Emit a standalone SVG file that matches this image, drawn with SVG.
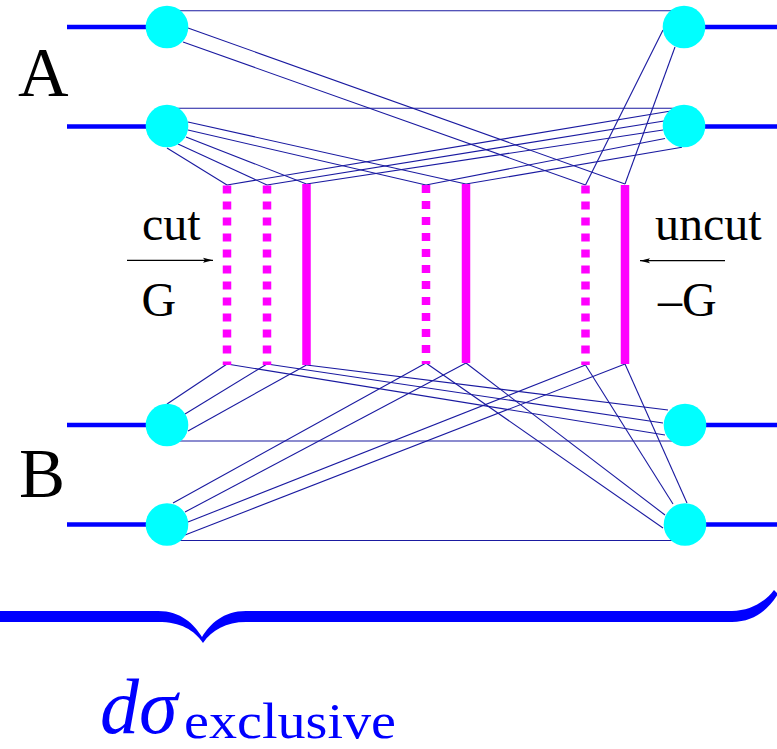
<svg xmlns="http://www.w3.org/2000/svg" width="777" height="749" viewBox="0 0 777 749">
<style>
.c{stroke:#1a1aa0;stroke-width:1.1;fill:none}
.ext{stroke:#0000ff;stroke-width:4.3}
.blob{fill:#00ffff}
.dot{stroke:#ff00ff;stroke-width:8.5;stroke-dasharray:8 8}
.sol{stroke:#ff00ff;stroke-width:8.5}
.t{font-family:"Liberation Serif","Times New Roman",serif;fill:#000}
.arr{stroke:#000;stroke-width:1.2}
</style>
<defs>
<marker id="ah" viewBox="0 0 10 6" refX="10" refY="3" markerWidth="10" markerHeight="6" markerUnits="userSpaceOnUse" orient="auto">
<path d="M0,0.5 L10,3 L0,5.5 L2,3 Z" fill="#000"/>
</marker>
</defs>
<rect width="777" height="749" fill="#fff"/>
<g id="connectors">
<line class="c" x1="175" y1="10.7" x2="676" y2="10.7"/>
<line class="c" x1="175" y1="108.3" x2="676" y2="108.3"/>
<line class="c" x1="175" y1="441" x2="676" y2="441"/>
<line class="c" x1="175" y1="540.5" x2="676" y2="540.5"/>
<line class="c" x1="188" y1="28" x2="625" y2="184"/>
<line class="c" x1="183" y1="42" x2="585.5" y2="185"/>
<line class="c" x1="663" y1="30" x2="585.5" y2="185"/>
<line class="c" x1="675" y1="47" x2="625" y2="184"/>
<line class="c" x1="188" y1="122" x2="466" y2="184"/>
<line class="c" x1="188" y1="130" x2="426" y2="185"/>
<line class="c" x1="186" y1="137" x2="306.5" y2="184"/>
<line class="c" x1="178" y1="144" x2="267" y2="185"/>
<line class="c" x1="167" y1="148" x2="227" y2="185"/>
<line class="c" x1="671" y1="111" x2="227" y2="185"/>
<line class="c" x1="664" y1="121" x2="267" y2="185"/>
<line class="c" x1="663" y1="130" x2="306.5" y2="184"/>
<line class="c" x1="665" y1="138.5" x2="426" y2="185"/>
<line class="c" x1="682" y1="147.3" x2="466" y2="184"/>
<line class="c" x1="167" y1="404" x2="227" y2="364"/>
<line class="c" x1="185" y1="414" x2="267" y2="364"/>
<line class="c" x1="188" y1="431" x2="306.5" y2="365"/>
<line class="c" x1="668" y1="410" x2="306.5" y2="365"/>
<line class="c" x1="663" y1="423" x2="267" y2="364"/>
<line class="c" x1="665" y1="435" x2="227" y2="364"/>
<line class="c" x1="173" y1="503" x2="426" y2="363"/>
<line class="c" x1="185" y1="512" x2="466" y2="363"/>
<line class="c" x1="188" y1="522" x2="585.5" y2="365"/>
<line class="c" x1="185" y1="535" x2="625" y2="364"/>
<line class="c" x1="663" y1="528" x2="426" y2="363"/>
<line class="c" x1="665" y1="515" x2="466" y2="363"/>
<line class="c" x1="673" y1="504" x2="585.5" y2="365"/>
<line class="c" x1="687" y1="503" x2="625" y2="364"/>
</g>
<g id="gluon-d1"><line class="dot" x1="227" y1="185.5" x2="227" y2="365"/></g>
<g id="gluon-d2"><line class="dot" x1="267" y1="185.5" x2="267" y2="365"/></g>
<g id="gluon-s1"><line class="sol" x1="306.5" y1="184" x2="306.5" y2="365"/></g>
<g id="gluon-d3"><line class="dot" x1="426" y1="185" x2="426" y2="364"/></g>
<g id="gluon-s2"><line class="sol" x1="466" y1="184" x2="466" y2="363"/></g>
<g id="gluon-d4"><line class="dot" x1="585.5" y1="185.5" x2="585.5" y2="365"/></g>
<g id="gluon-s3"><line class="sol" x1="625" y1="185" x2="625" y2="364"/></g>
<g id="A1L"><line class="ext" x1="67" y1="27" x2="167" y2="27"/><circle class="blob" cx="167" cy="27" r="21.3"/></g>
<g id="A2L"><line class="ext" x1="67" y1="126.5" x2="167" y2="126.5"/><circle class="blob" cx="167" cy="126" r="21.3"/></g>
<g id="B1L"><line class="ext" x1="67" y1="425" x2="167" y2="425"/><circle class="blob" cx="167" cy="425" r="21.3"/></g>
<g id="B2L"><line class="ext" x1="67" y1="524.5" x2="167" y2="524.5"/><circle class="blob" cx="167" cy="524.5" r="21.3"/></g>
<g id="A1R"><line class="ext" x1="684" y1="27" x2="777" y2="27"/><circle class="blob" cx="684" cy="27" r="21.3"/></g>
<g id="A2R"><line class="ext" x1="684" y1="126.5" x2="777" y2="126.5"/><circle class="blob" cx="684" cy="126" r="21.3"/></g>
<g id="B1R"><line class="ext" x1="684" y1="425" x2="777" y2="425"/><circle class="blob" cx="685" cy="425" r="21.3"/></g>
<g id="B2R"><line class="ext" x1="684" y1="524.5" x2="777" y2="524.5"/><circle class="blob" cx="685" cy="524.5" r="21.3"/></g>
<g id="labels">
<text class="t" x="18" y="96" font-size="70">A</text>
<text class="t" x="19" y="497" font-size="69">B</text>
<text class="t" x="142" y="240" font-size="48">cut</text>
<text class="t" x="141.5" y="316" font-size="48">G</text>
<text class="t" x="655" y="240" font-size="48">uncut</text>
<text class="t" x="658" y="316" font-size="48">–G</text>
<line class="arr" x1="127" y1="260.3" x2="213" y2="260.3" marker-end="url(#ah)"/>
<line class="arr" x1="725" y1="260.7" x2="640" y2="260.7" marker-end="url(#ah)"/>
</g>
<g id="brace">
<path fill="#0000ff" d="M0,611 H158 C181,611 194,624 202,637 C210,624 223,611 246,611 H732 C750,611 765,602 774,590 L778,594 C768,610 754,622 732,622 H246 C226,622 212,630 203,643 C194,630 181,622 158,622 H0 Z"/>
<text x="100" y="733" font-family="'Liberation Serif','Times New Roman',serif" font-style="italic" font-size="78" fill="#0000ff">dσ</text>
<text x="184" y="738" font-family="'Liberation Serif','Times New Roman',serif" font-size="50" fill="#0000ff" textLength="212" lengthAdjust="spacingAndGlyphs">exclusive</text>
</g>
</svg>
